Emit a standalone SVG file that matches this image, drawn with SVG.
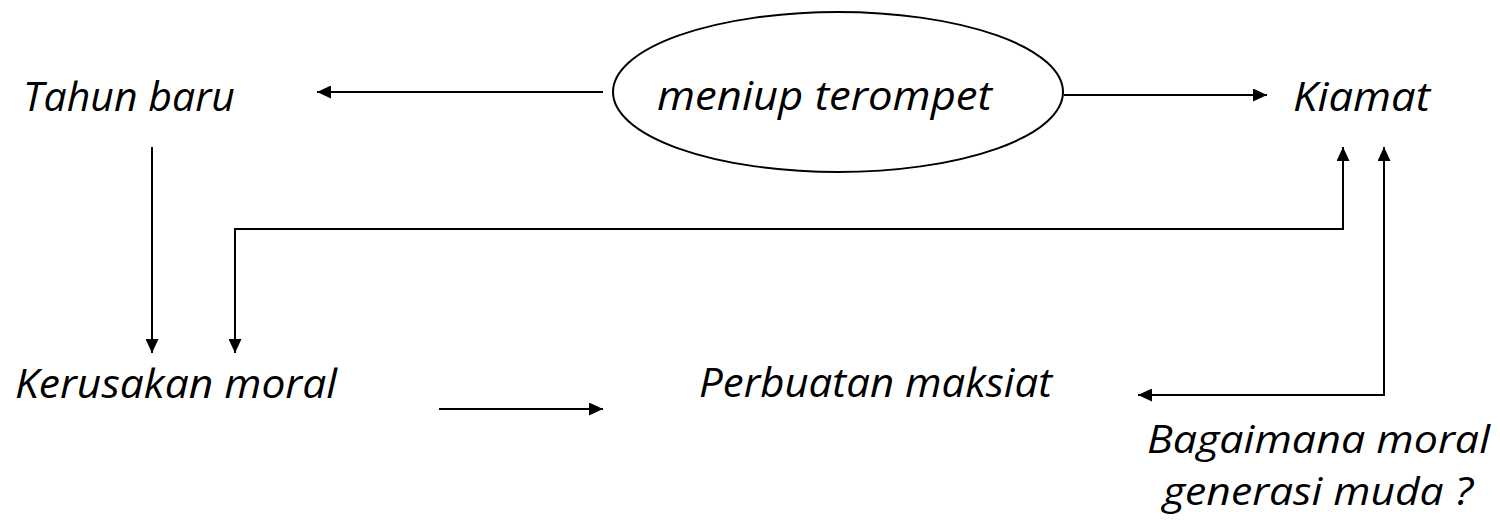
<svg xmlns="http://www.w3.org/2000/svg" width="1500" height="525" viewBox="0 0 1500 525">
<defs>
<style>
.t{font-family:"Open Sans","Liberation Sans",sans-serif;font-style:italic;font-size:41px;fill:#000}
.s{font-size:38px}
.c{fill:none;stroke:#000;stroke-width:2}
</style>
<marker id="ah" markerUnits="userSpaceOnUse" markerWidth="14" markerHeight="13" refX="14" refY="6.5" orient="auto-start-reverse" viewBox="0 0 14 13">
<path d="M0,0 L14,6.5 L0,13 z" fill="#000"/>
</marker>
</defs>
<rect width="1500" height="525" fill="#fff"/>
<g id="connectors">
<line class="c" x1="603" y1="92" x2="317" y2="92" marker-end="url(#ah)"/>
<line class="c" x1="1064" y1="95" x2="1267" y2="95" marker-end="url(#ah)"/>
<line class="c" x1="152" y1="147" x2="152" y2="353" marker-end="url(#ah)"/>
<polyline class="c" points="1343,147 1343,229 235,229 235,353" marker-start="url(#ah)" marker-end="url(#ah)"/>
<polyline class="c" points="1384,147 1384,395 1138,395" marker-start="url(#ah)" marker-end="url(#ah)"/>
<line class="c" x1="439" y1="409" x2="603" y2="409" marker-end="url(#ah)"/>
</g>
<g id="node-tahun-baru">
<text class="t" x="23" y="111" textLength="212" lengthAdjust="spacingAndGlyphs">Tahun baru</text>
</g>
<g id="node-meniup-terompet">
<ellipse class="c" cx="838" cy="92" rx="225" ry="80"/>
<text class="t" x="657" y="110" textLength="335" lengthAdjust="spacingAndGlyphs">meniup terompet</text>
</g>
<g id="node-kiamat">
<text class="t" x="1293" y="111" textLength="137" lengthAdjust="spacingAndGlyphs">Kiamat</text>
</g>
<g id="node-kerusakan-moral">
<text class="t" x="15" y="398" textLength="322" lengthAdjust="spacingAndGlyphs">Kerusakan moral</text>
</g>
<g id="node-perbuatan-maksiat">
<text class="t" x="699" y="397" textLength="353" lengthAdjust="spacingAndGlyphs">Perbuatan maksiat</text>
</g>
<g id="node-bagaimana">
<text class="t s" x="1147" y="453" textLength="343" lengthAdjust="spacingAndGlyphs">Bagaimana moral</text>
<text class="t s" x="1163" y="505" textLength="310" lengthAdjust="spacingAndGlyphs">generasi muda ?</text>
</g>
</svg>
